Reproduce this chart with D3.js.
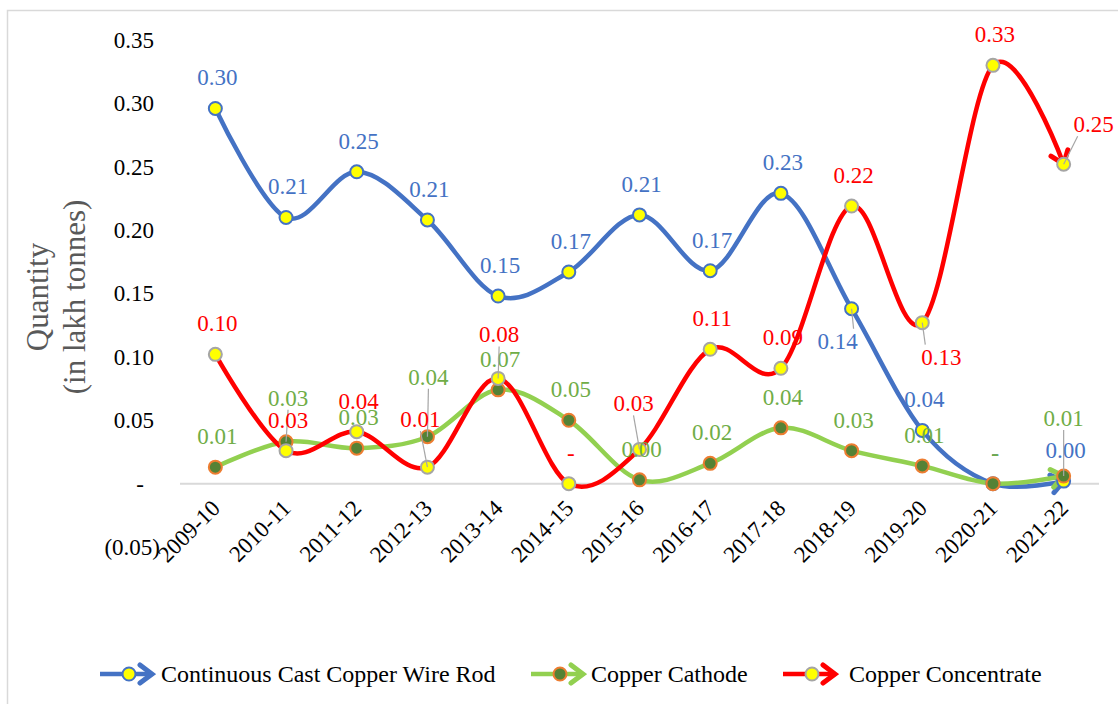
<!DOCTYPE html>
<html>
<head>
<meta charset="utf-8">
<script src="https://cdn.jsdelivr.net/npm/d3@7/dist/d3.min.js"></script>
<style>
  body { margin: 0; background: #fff; }
  svg { display: block; font-family: "Liberation Serif", "Times New Roman", serif; }
</style>
</head>
<body>
<svg width="1118" height="704"></svg>
<script>
const years = ['2009-10', '2010-11', '2011-12', '2012-13', '2013-14', '2014-15', '2015-16',
               '2016-17', '2017-18', '2018-19', '2019-20', '2020-21', '2021-22'];
const wireRod     = [0.296, 0.210, 0.246, 0.208, 0.148, 0.167, 0.212, 0.168, 0.229, 0.138, 0.042, 0.000, 0.002];
const cathode     = [0.013, 0.033, 0.028, 0.037, 0.074, 0.050, 0.003, 0.016, 0.044, 0.026, 0.014, 0.000, 0.006];
const concentrate = [0.102, 0.026, 0.041, 0.013, 0.083, 0.000, 0.027, 0.106, 0.091, 0.219, 0.127, 0.330, 0.252];
const yTicks = [-0.05, 0, 0.05, 0.10, 0.15, 0.20, 0.25, 0.30, 0.35];
const seriesNames = ['Continuous Cast Copper Wire Rod', 'Copper Cathode', 'Copper Concentrate'];

const svg = d3.select('svg');
const width = +svg.attr('width');
const height = +svg.attr('height');

// style for each series
const styles = [
  { line: '#4472C4', fill: '#FFFF00', stroke: '#4472C4', label: '#4472C4' },
  { line: '#92D050', fill: '#548235', stroke: '#ED7D31', label: '#70AD47' },
  { line: '#FF0000', fill: '#FFFF00', stroke: '#A5A5A5', label: '#FF0000' }
];
const allValues = [wireRod, cathode, concentrate];

// label nudges (dx, dy from point) where Excel moved them, with leader lines
const labelMoves = {
  '0-9':  [-14, 32, true],
  '1-1':  [2, -44, true],
  '1-3':  [1, -60, true],
  '1-12': [0, -58, true],
  '2-3':  [-7, -48, true],
  '2-4':  [1, -44, true],
  '2-6':  [-6, -46, true],
  '2-10': [19, 34, true],
  '2-12': [30, -40, true]
};

const x = d3.scaleBand().domain(years).range([180, 1099]);
const xc = d => x(d) + x.bandwidth() / 2;
const y = d3.scaleLinear().domain([-0.05, 0.35]).range([547, 40]);

// outer frame
svg.append('rect')
  .attr('x', 7.5).attr('y', 10.5)
  .attr('width', width).attr('height', height)
  .attr('fill', 'none').attr('stroke', '#D9D9D9').attr('stroke-width', 1.5);

// arrow markers
const defs = svg.append('defs');
styles.forEach((s, i) => {
  defs.append('marker')
    .attr('id', 'arrow' + i)
    .attr('markerUnits', 'userSpaceOnUse')
    .attr('viewBox', '-16 -12 20 24')
    .attr('markerWidth', 20).attr('markerHeight', 24)
    .attr('refX', 0).attr('refY', 0)
    .attr('orient', 'auto')
    .append('path')
      .attr('d', 'M-12,-9L0,0L-12,9')
      .attr('fill', 'none')
      .attr('stroke', s.line)
      .attr('stroke-width', 5)
      .attr('stroke-linecap', 'round')
      .attr('stroke-linejoin', 'miter');
});

// y axis
const fmtTick = d => d === 0 ? '-' : d < 0 ? `(${Math.abs(d).toFixed(2)})` : d.toFixed(2);
const yAxisG = svg.append('g')
  .attr('transform', 'translate(158,0)')
  .call(d3.axisLeft(y).tickValues(yTicks).tickFormat(fmtTick).tickSize(0).tickPadding(0));
yAxisG.select('.domain').remove();
yAxisG.selectAll('text')
  .attr('font-family', '"Liberation Serif", serif')
  .attr('font-size', 23)
  .attr('fill', '#000')
  .attr('dx', d => d === 0 ? -14 : d < 0 ? 2 : -4);

// zero line
svg.append('line')
  .attr('x1', 180).attr('x2', 1099)
  .attr('y1', y(0)).attr('y2', y(0))
  .attr('stroke', '#D9D9D9').attr('stroke-width', 2);

// x axis labels
const xAxisG = svg.append('g')
  .attr('transform', `translate(0,${y(0)})`)
  .call(d3.axisBottom(x).tickSize(0).tickPadding(0));
xAxisG.select('.domain').remove();
xAxisG.selectAll('text')
  .attr('font-family', '"Liberation Serif", serif')
  .attr('font-size', 23)
  .attr('fill', '#000')
  .attr('text-anchor', 'end')
  .attr('dy', 0)
  .attr('transform', 'translate(6,26) rotate(-45)');

// y axis title
const title = svg.append('text')
  .attr('transform', 'translate(0,297) rotate(-90)')
  .attr('text-anchor', 'middle')
  .attr('font-size', 31)
  .attr('fill', '#595959');
title.append('tspan').attr('x', 0).attr('y', 48).text('Quantity');
title.append('tspan').attr('x', 0).attr('y', 85).text('(in lakh tonnes)');

// lines
const line = d3.line()
  .x((d, i) => xc(years[i]))
  .y(d => y(d))
  .curve(d3.curveCardinal.tension(0));

allValues.forEach((vals, i) => {
  svg.append('path')
    .datum(vals)
    .attr('d', line)
    .attr('fill', 'none')
    .attr('stroke', styles[i].line)
    .attr('stroke-width', 4.5)
    .attr('stroke-linecap', 'round')
    .attr('marker-end', `url(#arrow${i})`);
});

// markers
allValues.forEach((vals, i) => {
  svg.append('g').selectAll('circle')
    .data(vals)
    .join('circle')
      .attr('cx', (d, j) => xc(years[j]))
      .attr('cy', d => y(d))
      .attr('r', 6.5)
      .attr('fill', styles[i].fill)
      .attr('stroke', styles[i].stroke)
      .attr('stroke-width', 2);
});

// data labels
const fmtLabel = d => d === 0 ? '-' : d.toFixed(2);
allValues.forEach((vals, i) => {
  const g = svg.append('g');
  vals.forEach((v, j) => {
    const px = xc(years[j]);
    const py = y(v);
    const mv = labelMoves[`${i}-${j}`] || [2, -31, false];
    const lx = px + mv[0];
    const ly = py + mv[1];
    if (mv[2]) {
      // leader line from label edge to point
      const sy = mv[1] < 0 ? ly + 12 : ly - 12;
      const sx = mv[0] > 10 ? lx - 16 : mv[0] < -10 ? lx + 16 : lx;
      g.append('line')
        .attr('x1', sx).attr('y1', sy)
        .attr('x2', px).attr('y2', py)
        .attr('stroke', '#A6A6A6').attr('stroke-width', 1.2);
    }
    g.append('text')
      .attr('x', lx).attr('y', ly + 8)
      .attr('text-anchor', 'middle')
      .attr('font-size', 23)
      .attr('fill', styles[i].label)
      .text(fmtLabel(v));
  });
});

// legend
const legendX = [100, 531, 783];
const legendTextX = [61, 60, 66];
const legend = svg.append('g');
seriesNames.forEach((name, i) => {
  const lg = legend.append('g').attr('transform', `translate(${legendX[i]},674)`);
  lg.append('path')
    .attr('d', 'M0,0L52,0')
    .attr('stroke', styles[i].line)
    .attr('stroke-width', 4.5)
    .attr('marker-end', `url(#arrow${i})`);
  lg.append('circle')
    .attr('cx', 29).attr('cy', 0).attr('r', 6.5)
    .attr('fill', styles[i].fill)
    .attr('stroke', styles[i].stroke)
    .attr('stroke-width', 2);
  lg.append('text')
    .attr('x', legendTextX[i]).attr('y', 8)
    .attr('font-size', 24)
    .attr('fill', '#000')
    .text(name);
});
</script>
</body>
</html>
